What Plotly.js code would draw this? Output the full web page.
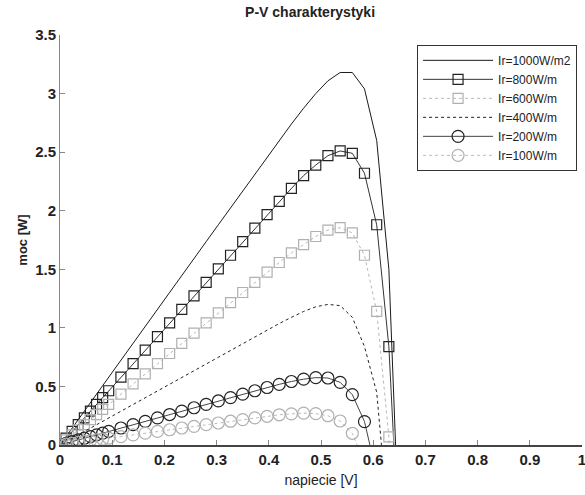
<!DOCTYPE html>
<html>
<head>
<meta charset="utf-8">
<script src="https://cdn.plot.ly/plotly-3.0.1.min.js"></script>
<style>html,body{margin:0;padding:0;background:#fff;}#chart{width:585px;height:495px;}</style>
</head>
<body>
<div id="chart"></div>
<script>
// Voltage grid [V]
const napiecie = [0, 0.0117, 0.0233, 0.035, 0.0467, 0.0583, 0.07, 0.0817, 0.0933, 0.1167, 0.14, 0.1633, 0.1867, 0.21, 0.2333, 0.2567, 0.28, 0.3033, 0.3267, 0.35, 0.3733, 0.3967, 0.42, 0.4433, 0.4667, 0.49, 0.5133, 0.5367, 0.56, 0.5833, 0.6067, 0.63, 0.6533];

// Power [W] per irradiance
const p1000 = [0, 0.073, 0.144, 0.217, 0.29, 0.361, 0.434, 0.507, 0.578, 0.724, 0.868, 1.012, 1.158, 1.302, 1.446, 1.592, 1.736, 1.88, 2.025, 2.169, 2.313, 2.457, 2.6, 2.74, 2.875, 3.0, 3.109, 3.18, 3.18, 3.04, 2.6, 1.5, -1.2];
const p800 = [0, 0.058, 0.116, 0.174, 0.232, 0.289, 0.347, 0.405, 0.463, 0.579, 0.694, 0.81, 0.926, 1.042, 1.157, 1.273, 1.389, 1.504, 1.62, 1.736, 1.851, 1.967, 2.079, 2.19, 2.3, 2.39, 2.47, 2.51, 2.49, 2.32, 1.88, 0.84, -1.2];
const p600 = [0, 0.0435, 0.0867, 0.13, 0.174, 0.217, 0.26, 0.304, 0.347, 0.434, 0.521, 0.607, 0.695, 0.781, 0.868, 0.955, 1.042, 1.128, 1.215, 1.302, 1.389, 1.476, 1.558, 1.64, 1.71, 1.78, 1.835, 1.855, 1.81, 1.62, 1.14, 0.07, -2.7];
const p400 = [0, 0.029, 0.058, 0.087, 0.116, 0.145, 0.174, 0.203, 0.231, 0.289, 0.347, 0.405, 0.463, 0.521, 0.579, 0.637, 0.694, 0.752, 0.81, 0.868, 0.926, 0.984, 1.037, 1.09, 1.14, 1.18, 1.2, 1.19, 1.09, 0.84, 0.45, -0.7];
const p200 = [0, 0.0145, 0.029, 0.0434, 0.058, 0.072, 0.087, 0.101, 0.116, 0.145, 0.174, 0.202, 0.232, 0.26, 0.289, 0.318, 0.347, 0.376, 0.405, 0.434, 0.463, 0.491, 0.518, 0.542, 0.562, 0.575, 0.572, 0.535, 0.43, 0.2, -0.25];
const p100 = [0, 0.0073, 0.0145, 0.0217, 0.029, 0.036, 0.0434, 0.0507, 0.058, 0.072, 0.087, 0.101, 0.116, 0.13, 0.145, 0.159, 0.174, 0.188, 0.203, 0.217, 0.231, 0.245, 0.258, 0.266, 0.272, 0.268, 0.25, 0.205, 0.1, -0.15];

const names = ['Ir=1000W/m2', 'Ir=800W/m', 'Ir=600W/m', 'Ir=400W/m', 'Ir=200W/m', 'Ir=100W/m'];
const xTicks = [0, 0.1, 0.2, 0.3, 0.4, 0.5, 0.6, 0.7, 0.8, 0.9, 1];
const yTicks = [0, 0.5, 1, 1.5, 2, 2.5, 3, 3.5];

function xs(arr) { return napiecie.slice(0, arr.length); }

const traces = [
  {x: xs(p1000), y: p1000, name: names[0], mode: 'lines',
   line: {color: '#1a1a1a', width: 1}},
  {x: xs(p800), y: p800, name: names[1], mode: 'lines+markers',
   line: {color: '#333333', width: 1},
   marker: {symbol: 'square-open', size: 10, color: '#222222', line: {width: 1.2, color: '#222222'}}},
  {x: xs(p600), y: p600, name: names[2], mode: 'lines+markers',
   line: {color: '#b8b8b8', width: 1, dash: 'dot'},
   marker: {symbol: 'square-open', size: 10, color: '#b0b0b0', line: {width: 1.2, color: '#b0b0b0'}}},
  {x: xs(p400), y: p400, name: names[3], mode: 'lines',
   line: {color: '#222222', width: 1, dash: 'dot'}},
  {x: xs(p200), y: p200, name: names[4], mode: 'lines+markers',
   line: {color: '#444444', width: 1},
   marker: {symbol: 'circle-open', size: 12, color: '#222222', line: {width: 1.2, color: '#222222'}}},
  {x: xs(p100), y: p100, name: names[5], mode: 'lines+markers',
   line: {color: '#bbbbbb', width: 1, dash: 'dot'},
   marker: {symbol: 'circle-open', size: 12, color: '#b0b0b0', line: {width: 1.2, color: '#b0b0b0'}}}
];

const layout = {
  width: 585, height: 495,
  margin: {l: 60, r: 3, t: 35, b: 50},
  paper_bgcolor: '#ffffff', plot_bgcolor: '#ffffff',
  font: {family: '"Liberation Sans", Arial, sans-serif', color: '#222222'},
  showlegend: true,
  hovermode: false,
  title: {text: '<b>P-V charakterystyki</b>', font: {size: 14, color: '#222222'},
          x: 0.53, xanchor: 'center', y: 0.976, yanchor: 'middle'},
  xaxis: {
    range: [0, 1], tickvals: xTicks, ticktext: xTicks.map(String),
    showgrid: false, zeroline: false,
    showline: true, linecolor: '#444444', linewidth: 1.5, mirror: false,
    ticks: 'inside', ticklen: 5, tickcolor: '#888888', tickwidth: 1,
    tickfont: {size: 15, color: '#222222', weight: 'bold'},
    ticklabeloverflow: 'allow',
    title: {text: 'napiecie [V]', font: {size: 14, color: '#222222'}, standoff: 8}
  },
  yaxis: {
    range: [0, 3.5], tickvals: yTicks, ticktext: yTicks.map(String),
    showgrid: false, zeroline: false,
    showline: true, linecolor: '#888888', linewidth: 1, mirror: false,
    ticks: 'inside', ticklen: 5, tickcolor: '#888888', tickwidth: 1,
    tickfont: {size: 15, color: '#222222', weight: 'bold'},
    ticklabeloverflow: 'allow',
    title: {text: '<b>moc [W]</b>', font: {size: 13, color: '#222222'}, standoff: 4}
  },
  legend: {
    x: 0.684, y: 0.976, xanchor: 'left', yanchor: 'top',
    bgcolor: '#ffffff', bordercolor: '#333333', borderwidth: 1,
    font: {size: 12, color: '#222222'},
    itemwidth: 70, tracegroupgap: 0
  }
};

Plotly.newPlot('chart', traces, layout, {displayModeBar: false, staticPlot: true});
</script>
</body>
</html>
